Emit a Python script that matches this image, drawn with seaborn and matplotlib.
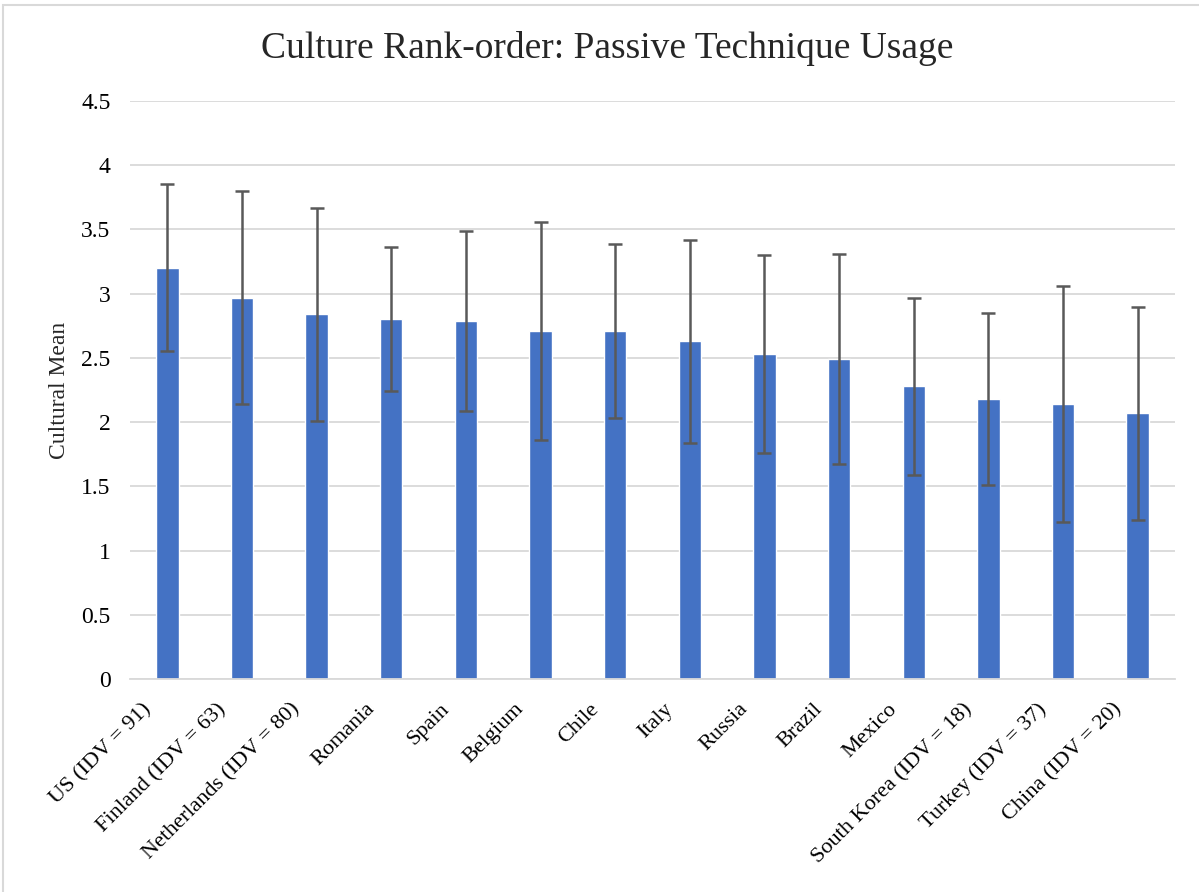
import matplotlib
matplotlib.use("Agg")
import matplotlib.pyplot as plt
import matplotlib.transforms as mtransforms
import seaborn as sns
import pandas as pd
from matplotlib.patches import Rectangle

# Daten
countries = ["US (IDV = 91)", "Finland (IDV = 63)", "Netherlands (IDV = 80)", "Romania",
             "Spain", "Belgium", "Chile", "Italy", "Russia", "Brazil", "Mexico",
             "South Korea (IDV = 18)", "Turkey (IDV = 37)", "China (IDV = 20)"]
means = [3.20, 2.97, 2.84, 2.80, 2.79, 2.71, 2.71, 2.63, 2.53, 2.49, 2.28, 2.18, 2.14, 2.07]
errors = [0.65, 0.83, 0.83, 0.56, 0.70, 0.85, 0.68, 0.79, 0.77, 0.82, 0.69, 0.67, 0.92, 0.83]

df = pd.DataFrame({"Country": countries, "Mean": means, "SD": errors})

sns.set_style("white")
plt.rcParams["font.family"] = ["Liberation Serif", "DejaVu Serif"]

fig = plt.figure(figsize=(11.99, 8.92), dpi=100)
ax = fig.add_axes([130 / 1199, 1 - 679 / 892, 1045 / 1199, 578 / 892])

sns.barplot(data=df, x="Country", y="Mean", color="#4472C4", width=0.3,
            saturation=1, ax=ax, zorder=2)
ax.errorbar(ax.get_xticks(), df["Mean"], yerr=df["SD"], fmt="none",
            ecolor="#595959", elinewidth=1.8, capsize=5, capthick=1.8, zorder=3)

ax.set_ylim(0, 4.5)
ax.set_xlim(-0.5, len(countries) - 0.5)
ax.set_yticks([0, 0.5, 1, 1.5, 2, 2.5, 3, 3.5, 4, 4.5])
ax.set_yticklabels(["0", "0.5", "1", "1.5", "2", "2.5", "3", "3.5", "4", "4.5"])
ax.yaxis.grid(True, color="#D9D9D9", linewidth=1.3, zorder=0)
ax.set_axisbelow(True)
for s in ["top", "right", "left"]:
    ax.spines[s].set_visible(False)
ax.spines["bottom"].set_color("#D9D9D9")
ax.spines["bottom"].set_linewidth(1.3)
ax.tick_params(axis="both", length=0, colors="black")
ax.tick_params(axis="y", pad=14, labelsize=17)
ax.tick_params(axis="x", pad=12, labelsize=16)

# x-Beschriftungen etwas nach links unten verschieben
shift = mtransforms.ScaledTranslation(-26 / 100, -4 / 100, fig.dpi_scale_trans)
for lbl in ax.get_xticklabels():
    lbl.set_rotation(45)
    lbl.set_ha("right")
    lbl.set_rotation_mode("anchor")
    lbl.set_transform(lbl.get_transform() + shift)

ax.set_xlabel("")
ax.set_ylabel("Cultural Mean", fontsize=17, labelpad=8)
fig.text(607 / 1199, 1 - 48 / 892, "Culture Rank-order: Passive Technique Usage",
         ha="center", va="center", fontsize=27)

# Rahmen
fig.patches.append(Rectangle((3 / 1199, -0.05), 1.2, 1 - 5 / 892 + 0.05,
                             transform=fig.transFigure, fill=False,
                             edgecolor="#D9D9D9", linewidth=1.5))

fig.savefig("out.png", dpi=100)
